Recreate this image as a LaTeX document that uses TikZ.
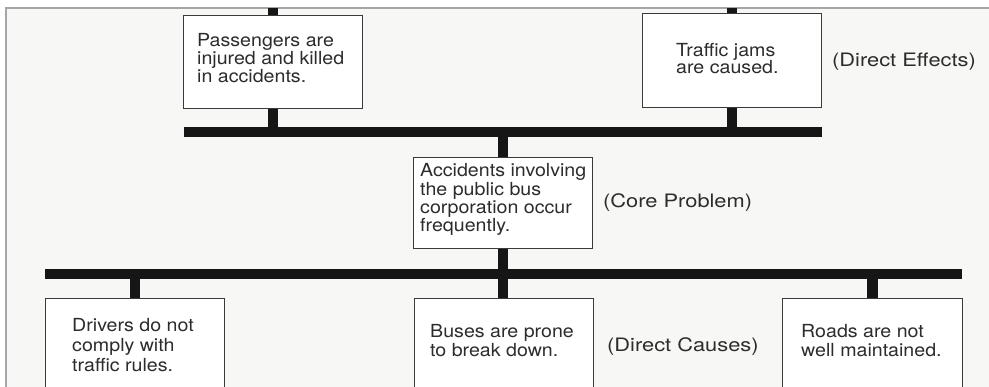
\documentclass[tikz,border=0pt]{standalone}
\usepackage{fontspec}
\setmainfont{TeX Gyre Heros}
\newfontfamily\boxfont{TeX Gyre Heros}
\newfontfamily\tagfont{TeX Gyre Heros}

\definecolor{paper}{HTML}{F7F7F6}
\definecolor{rimgray}{HTML}{A6A6A6}
\definecolor{edge}{HTML}{3A3A3A}
\definecolor{ink}{HTML}{2C2C2C}
\definecolor{beam}{HTML}{161616}

% left-aligned lines; the box baseline is the baseline of the first line
\newcommand\textlines[2]{\scalebox{1.09}[1]{\boxfont\fontsize{18}{18}\selectfont
  \vtop{\baselineskip=#1\relax\lineskiplimit=-100pt\relax
  \halign{##\hfil\cr#2\crcr}}}}
% wide-set level label
\newcommand\leveltag[1]{\scalebox{1.18}[1]{\tagfont\fontsize{18.5}{20}\selectfont #1}}

\tikzset{
  card/.style={draw=edge, line width=1.1pt, fill=white, inner sep=0pt, anchor=north west},
  boxtext/.style={text=ink, inner sep=0pt, anchor=base west},
  leveltext/.style={text=ink, inner sep=0pt, anchor=base west},
  beamline/.style={draw=beam, line width=9.5pt, line cap=butt},
  stem/.style={draw=beam, line width=10.5pt, line cap=butt},
}

\begin{document}
\begin{tikzpicture}[x=1pt, y=-1pt]
\useasboundingbox (0,0) rectangle (989,387);
\clip (0,0) rectangle (989,387);
\fill[white] (0,0) rectangle (989,387);
\fill[paper] (6,8) rectangle (989,387);
\draw[rimgray, line width=2.6pt] (6,387) -- (6,8) -- (989,8);
\coordinate (rim) at (0,8);

% boxes
\node[card, minimum width=179pt, minimum height=93pt] (pass) at (183,15) {};
\node[card, minimum width=179pt, minimum height=94pt] (traffic) at (642,13) {};
\node[card, minimum width=179pt, minimum height=91pt] (core) at (413,157) {};
\node[card, minimum width=179pt, minimum height=100pt] (drivers) at (45,298) {};
\node[card, minimum width=179pt, minimum height=100pt] (buses) at (414,298) {};
\node[card, minimum width=180pt, minimum height=100pt] (roads) at (782,298) {};

% horizontal bars
\coordinate (ubL) at (184,132);
\coordinate (ubR) at (822,132);
\coordinate (lbL) at (45,274);
\coordinate (lbR) at (962,274);

% stems
\draw[stem] (pass.north) -- (pass.north |- rim);
\draw[stem] (traffic.north) -- (traffic.north |- rim);
\draw[stem] (pass.south) -- (pass.south |- ubL);
\draw[stem] (traffic.south) -- (traffic.south |- ubL);
\draw[stem] (core.north) -- (core.north |- ubL);
\draw[stem] (core.south) -- (core.south |- buses.north);
\draw[stem] (drivers.north) -- (drivers.north |- lbL);
\draw[stem] (roads.north) -- (roads.north |- lbL);

\draw[beamline] (ubL) -- (ubR);
\draw[beamline] (lbL) -- (lbR);

% box texts
\node[boxtext] (tpass) at (197,47) {\textlines{18pt}{Passengers are\cr injured and killed\cr in accidents.}};
\node[boxtext] (ttraffic) at (676,57) {\textlines{17pt}{Traffic jams\cr are caused.}};
\node[boxtext] (tcore) at (420,177) {\textlines{18.3pt}{Accidents involving\cr the public bus\cr corporation occur\cr frequently.}};
\node[boxtext] (tdrivers) at (72,332) {\textlines{19.8pt}{Drivers do not\cr comply with\cr traffic rules.}};
\node[boxtext] (tbuses) at (430,338) {\textlines{18.7pt}{Buses are prone\cr to break down.}};
\node[boxtext] (troads) at (801,338) {\textlines{18.7pt}{Roads are not\cr well maintained.}};

% level labels
\node[leveltext] (leffects) at (832,67) {\leveltag{(Direct Effects)}};
\node[leveltext] (lcore) at (603,208) {\leveltag{(Core Problem)}};
\node[leveltext] (lcauses) at (607,352) {\leveltag{(Direct Causes)}};
\end{tikzpicture}
\end{document}
